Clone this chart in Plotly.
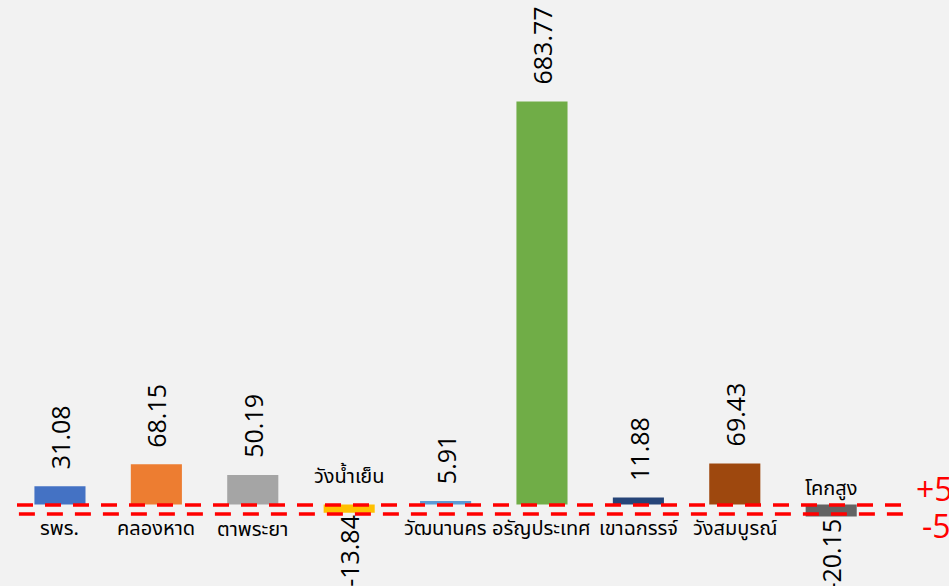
import plotly.graph_objects as go

categories = ["รพร.", "คลองหาด", "ตาพระยา", "วังน้ำเย็น", "วัฒนานคร",
              "อรัญประเทศ", "เขาฉกรรจ์", "วังสมบูรณ์", "โคกสูง"]
values = [31.08, 68.15, 50.19, -13.84, 5.91, 683.77, 11.88, 69.43, -20.15]
colors = ["#4472C4", "#ED7D31", "#A5A5A5", "#FFC000", "#5B9BD5",
          "#70AD47", "#264478", "#9E480E", "#636363"]
threshold_values = [5, -5]
threshold_labels = ["+5", "-5"]

x_idx = list(range(len(categories)))

fig = go.Figure()
fig.add_trace(go.Bar(
    x=x_idx, y=values, marker=dict(color=colors, line=dict(width=0)),
    hoverinfo="skip", showlegend=False,
))
# invisible trace to activate secondary axis
fig.add_trace(go.Scatter(x=[x_idx[0]], y=[0], yaxis="y2", mode="markers",
                         marker=dict(opacity=0), hoverinfo="skip", showlegend=False))

val_font = dict(family="Open Sans, sans-serif", size=25, color="#000000")
cat_font = dict(family="Tahoma, Noto Sans Thai, sans-serif", size=20, color="#000000")

# value labels
for i, v in zip(x_idx, values):
    if v >= 0:
        fig.add_annotation(x=i, y=v, text=f"{v:.2f}", textangle=-90, showarrow=False,
                           xanchor="center", yanchor="bottom", yshift=15, font=val_font)
    else:
        fig.add_annotation(x=i, y=v, text=f"{v:.2f}", textangle=-90, showarrow=False,
                           xanchor="center", yanchor="top", yshift=0, font=val_font)

# category labels near zero line
cat_shift = [-24, -24, -25, 28, -24, -24, -24, -24, 16]
for i, (c, v, s) in enumerate(zip(categories, values, cat_shift)):
    fig.add_annotation(x=i, y=0, text=c, showarrow=False, xanchor="center",
                       yanchor="middle", yshift=s, font=cat_font)

# threshold dashed lines on secondary axis
for tv, tl, dx, ys in zip(threshold_values, threshold_labels, [0.0, 0.002], [16, -12]):
    fig.add_shape(type="line", xref="paper", yref="y2", x0=17/949 + dx, x1=903/949,
                  y0=tv, y1=tv, line=dict(color="#FF0000", width=3.5, dash="16px,12px"))
    fig.add_annotation(xref="paper", yref="y2", x=(914 if tv > 0 else 920)/949, y=tv,
                       text=tl, showarrow=False, xanchor="left", yanchor="middle",
                       yshift=ys, font=dict(family="Open Sans, sans-serif", size=32, color="#FF0000"))

fig.update_layout(
    width=949, height=586,
    margin=dict(l=0, r=0, t=0, b=0),
    paper_bgcolor="#F2F2F2", plot_bgcolor="#F2F2F2",
    bargap=0.47,
    xaxis=dict(range=[-0.622, 9.222], visible=False, fixedrange=True),
    yaxis=dict(range=[-138.2, 856.0], visible=False, fixedrange=True),
    yaxis2=dict(range=[-85.1, 566.1], overlaying="y", visible=False, fixedrange=True),
)

fig.write_html("out.html", config={"displayModeBar": False},
               post_script="document.body.style.margin='0';document.body.style.overflow='hidden';")
